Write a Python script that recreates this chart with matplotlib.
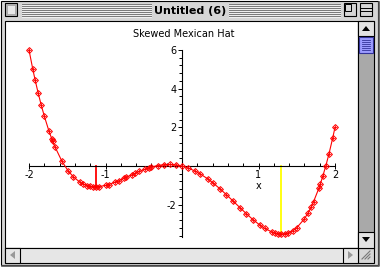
import matplotlib
matplotlib.use("Agg")
import matplotlib.pyplot as plt
from matplotlib.patches import Rectangle, Polygon

# sample points of the plotted curve
xs = [-2.00, -1.95, -1.92, -1.88, -1.84, -1.80, -1.74, -1.70, -1.69, -1.66,
      -1.57, -1.49, -1.42, -1.33, -1.30, -1.24, -1.20, -1.16, -1.12, -1.08,
      -1.00, -0.96, -0.88, -0.82, -0.76, -0.73, -0.66, -0.61, -0.56, -0.48,
      -0.43, -0.40, -0.32, -0.24, -0.16, -0.08, 0.00, 0.08, 0.17, 0.23,
      0.34, 0.41, 0.50, 0.58, 0.67, 0.76, 0.84, 0.93, 1.02, 1.08,
      1.17, 1.21, 1.26, 1.30, 1.34, 1.39, 1.45, 1.50, 1.60, 1.65,
      1.69, 1.72, 1.79, 1.81, 1.84, 1.88, 1.92, 1.97, 2.00]
ys = [6.00, 5.00, 4.45, 3.77, 3.15, 2.58, 1.82, 1.38, 1.28, 0.99,
      0.25, -0.24, -0.56, -0.85, -0.91, -1.01, -1.05, -1.07, -1.07, -1.06,
      -1.00, -0.96, -0.84, -0.75, -0.64, -0.58, -0.46, -0.37, -0.28, -0.16,
      -0.09, -0.05, 0.02, 0.07, 0.08, 0.06, 0.00, -0.10, -0.26, -0.39,
      -0.67, -0.89, -1.19, -1.48, -1.82, -2.16, -2.46, -2.78, -3.06, -3.22,
      -3.40, -3.46, -3.50, -3.51, -3.50, -3.45, -3.34, -3.19, -2.73, -2.41,
      -2.10, -1.84, -1.14, -0.91, -0.53, 0.01, 0.61, 1.45, 2.00]

# vertical markers at the two minima
min_x = [-1.12, 1.30]
min_y = [-1.07, -3.51]
min_colors = ["#ff0000", "#ffff00"]

xticks = [-2, -1, 1, 2]
yticks = [-2, 2, 4, 6]

W, H = 380, 269
fig = plt.figure(figsize=(W / 100, H / 100), dpi=100)
fig.patch.set_facecolor("white")

# window chrome, drawn in pixel coordinates
bg = fig.add_axes([0, 0, 1, 1])
bg.set_xlim(0, W)
bg.set_ylim(H, 0)
bg.axis("off")

def box(x, y, w, h, fc, ec="black", lw=0.8, z=1):
    bg.add_patch(Rectangle((x, y), w, h, fc=fc, ec=ec, lw=lw, zorder=z))

box(0.5, 0.5, 377, 264, "#d6d6d6")
bg.plot([2, 378.5, 378.5], [266, 266, 2], color="#555555", lw=1.2)

# title bar stripes
for yy in range(4, 17, 2):
    bg.plot([22, 151], [yy, yy], color="#7a7a7a", lw=0.7, zorder=2)
    bg.plot([229, 340], [yy, yy], color="#7a7a7a", lw=0.7, zorder=2)
    bg.plot([22, 151], [yy + 1, yy + 1], color="#f4f4f4", lw=0.6, zorder=2)
    bg.plot([229, 340], [yy + 1, yy + 1], color="#f4f4f4", lw=0.6, zorder=2)
box(5, 3, 12, 13, "#b8b8b8", z=3)
box(7, 5, 8, 9, "#e8e8e8", ec="#9a9a9a", lw=0.5, z=3)
box(344, 3, 12, 13, "#d6d6d6", z=3)
box(345, 4, 6, 7, "#d6d6d6", lw=0.7, z=3)
box(360, 3, 12, 13, "#d6d6d6", z=3)
bg.plot([360, 372], [8, 8], color="black", lw=0.7, zorder=4)
bg.plot([360, 372], [11, 11], color="black", lw=0.7, zorder=4)
bg.text(190, 10.5, "Untitled (6)", ha="center", va="center",
        fontsize=8, fontweight="bold", zorder=5)

# content area
box(5, 20.5, 353, 227, "white")

# vertical scroll bar
box(358, 20.5, 16, 227, "#a9a9a9")
box(358, 20.5, 16, 15, "#e2e2e2", z=2)
bg.add_patch(Polygon([[362, 31], [370, 31], [366, 26]], fc="black", zorder=3))
box(359, 37, 14, 16, "#9c9cff", ec="#333399", z=2)
for yy in range(40, 52, 2):
    bg.plot([362, 370], [yy, yy], color="#333399", lw=0.6, zorder=3)
box(358, 232, 16, 15.5, "#e2e2e2", z=2)
bg.add_patch(Polygon([[362, 237], [370, 237], [366, 242]], fc="black", zorder=3))

# horizontal scroll bar
box(5, 247.5, 353, 15, "#e6e6e6")
box(5, 247.5, 15, 15, "#e6e6e6", z=2)
bg.add_patch(Polygon([[10, 255], [15, 251], [15, 259]], fc="#999999", zorder=3))
box(343, 247.5, 15, 15, "#e6e6e6", z=2)
bg.add_patch(Polygon([[353, 255], [348, 251], [348, 259]], fc="#999999", zorder=3))

# grow box
box(358, 247.5, 16, 15, "#d6d6d6")
for k in range(3):
    bg.plot([362 + 3 * k, 370], [259, 251 + 3 * k], color="#777777", lw=0.8, zorder=3)

# the plot itself
ax = fig.add_axes([29 / W, 32 / H, 306 / W, 187 / H])
ax.patch.set_alpha(0)
ax.set_xlim(-2, 2)
ax.set_ylim(-3.67, 6.0)

for mx, my, mc in zip(min_x, min_y, min_colors):
    ax.plot([mx, mx], [0, my], color=mc, lw=1.3, zorder=2)

ax.plot(xs, ys, color="red", lw=0.8, zorder=3, clip_on=False)
ax.plot(xs, ys, ls="none", marker="D", ms=3.0, mfc="none", mec="red",
        mew=0.7, zorder=4, clip_on=False)
ax.plot(xs, ys, ls="none", marker="+", ms=3.0, mec="red",
        mew=0.6, zorder=4, clip_on=False)

for side in ["top", "right"]:
    ax.spines[side].set_visible(False)
ax.spines["left"].set_position(("data", 0))
ax.spines["bottom"].set_position(("data", 0))
ax.spines["left"].set_linewidth(0.8)
ax.spines["bottom"].set_linewidth(0.8)

ax.set_xticks(xticks)
ax.set_xticklabels([str(t) for t in xticks])
ax.set_yticks(yticks)
ax.set_yticklabels([str(t) for t in yticks])
ax.set_xticks([i * 0.2 - 2 for i in range(21)], minor=True)
ax.set_yticks([i * 0.4 - 3.6 for i in range(25)], minor=True)
ax.tick_params(axis="x", which="major", direction="inout", length=5,
               width=0.7, labelsize=7, pad=0)
ax.tick_params(axis="x", which="minor", direction="in", length=2, width=0.7)
ax.tick_params(axis="y", which="major", direction="out", length=3,
               width=0.7, labelsize=7, pad=1)
ax.tick_params(axis="y", which="minor", direction="out", length=2, width=0.7)

ax.text(1.0, -1.05, "x", ha="center", va="center", fontsize=7)
ax.text(0.02, 6.85, "Skewed Mexican Hat", ha="center", va="center", fontsize=7)

fig.savefig("out.png", dpi=100)
